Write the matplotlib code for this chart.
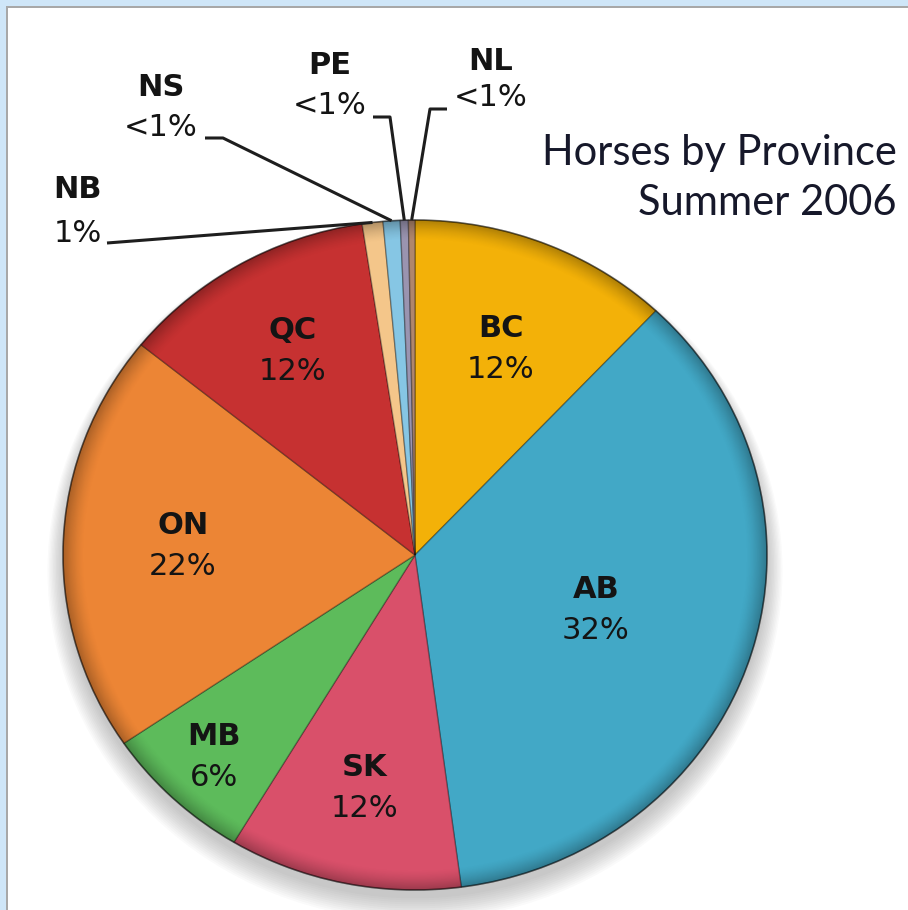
import matplotlib
matplotlib.use("Agg")
import matplotlib.pyplot as plt
import numpy as np
from matplotlib.patches import Rectangle, Ellipse

# slice data, clockwise from 12 o'clock
provinces = ["BC", "AB", "SK", "MB", "ON", "QC", "NB", "NS", "PE", "NL"]
shares = [12.0, 35.9, 10.7, 6.9, 20.3, 11.8, 0.95, 0.78, 0.37, 0.30]
pct_labels = ["12%", "32%", "12%", "6%", "22%", "12%", "1%", "<1%", "<1%", "<1%"]
title_lines = ["Horses by Province", "Summer 2006"]

colors = ["#F3B108", "#42A8C6", "#D9506A", "#5DBB5B", "#EC8535",
          "#C63131", "#F4C68A", "#86C6E4", "#9A94B0", "#B0866C"]

W, H = 908, 910
CX, CY = 415, 555          # pie centre in pixels (from top)
RX, RY = 352, 335          # pie radii in pixels


def px(x, y):
    """Pixel position (from top-left) to data coordinates."""
    return (x - CX) / RX, (CY - y) / RY


fig = plt.figure(figsize=(W / 100, H / 100), dpi=100)
ax = fig.add_axes([0, 0, 1, 1])

# soft shadow under the pie, mostly towards the bottom
for i in range(12):
    s = 1.0 + 0.004 * i
    ax.add_patch(Ellipse((0, -0.025 - 0.002 * i), 2 * s, 2 * s,
                         color="#606060", alpha=0.03, lw=0, zorder=0))

wedges, _ = ax.pie(shares, colors=colors, startangle=90, counterclock=False,
                   wedgeprops=dict(edgecolor="#00000050", linewidth=1.0))
ax.set_aspect("auto")
ax.set_xlim(-CX / RX, (W - CX) / RX)
ax.set_ylim(-(H - CY) / RY, CY / RY)
ax.axis("off")

# bevel: darker band along the rim, clipped to the pie
gx, gy = np.meshgrid(np.linspace(-1, 1, 600), np.linspace(-1, 1, 600))
rr = np.hypot(gx, gy)
shade = np.zeros((600, 600, 4))
shade[..., 3] = np.clip((rr - 0.94) / 0.06, 0, 1) ** 1.5 * 0.28
img = ax.imshow(shade, extent=(-1, 1, -1, 1), origin="lower", aspect="auto", zorder=2)
clip = Ellipse((0, 0), 2, 2, transform=ax.transData, fc="none", ec="none")
ax.add_patch(clip)
img.set_clip_path(clip)
ax.add_patch(Ellipse((0, 0), 2, 2, fill=False, ec="#00000070", lw=1.2, zorder=3))

name_font = dict(family="DejaVu Sans", fontsize=22, fontweight="bold", color="#141414")
pct_font = dict(family="DejaVu Sans", fontsize=22, color="#141414")

# labels inside the big slices
label_r = [0.66, 0.54, 0.71, 0.83, 0.66, 0.70]
for w, name, pct, r in zip(wedges[:6], provinces[:6], pct_labels[:6], label_r):
    mid = np.deg2rad((w.theta1 + w.theta2) / 2)
    x, y = r * np.cos(mid), r * np.sin(mid)
    ax.text(x, y + 0.062, name, ha="center", va="center", zorder=5, **name_font)
    ax.text(x, y - 0.060, pct, ha="center", va="center", zorder=5, **pct_font)

# outside labels with leader lines
out_text = [(78, 190, 233), (161, 87, 127), (330, 65, 105), (491, 61, 98)]
elbows = [[(107, 243)], [(205, 138), (223, 138)], [(373, 117), (390, 117)],
          [(447, 109), (430, 109)]]
for w, name, pct, (tx, ny, py), elb in zip(wedges[6:], provinces[6:], pct_labels[6:],
                                            out_text, elbows):
    ax.text(*px(tx, ny), name, ha="center", va="center", **name_font)
    ax.text(*px(tx, py), pct, ha="center", va="center", **pct_font)
    mid = np.deg2rad((w.theta1 + w.theta2) / 2)
    pts = [px(*p) for p in elb] + [(np.cos(mid), np.sin(mid))]
    xs, ys = zip(*pts)
    ax.plot(xs, ys, color="#1e1e1e", lw=2.2, solid_capstyle="butt", zorder=4)

# title
for line, ty in zip(title_lines, (153, 203)):
    ax.text(*px(897, ty), line, ha="right", va="center", family="Lato",
            fontsize=30, color="#16182a")

# window frame (top and left)
fig.add_artist(Rectangle((0, 1 - 6 / H), 1, 6 / H, transform=fig.transFigure,
                         color="#CFE6F8", lw=0))
fig.add_artist(Rectangle((0, 0), 6 / W, 1, transform=fig.transFigure,
                         color="#CFE6F8", lw=0))
fig.add_artist(Rectangle((6 / W, 1 - 7.5 / H), 1, 1.5 / H, transform=fig.transFigure,
                         color="#A8A8A8", lw=0))
fig.add_artist(Rectangle((6 / W, 0), 1.5 / W, 1 - 6 / H, transform=fig.transFigure,
                         color="#A8A8A8", lw=0))

fig.savefig("out.png", dpi=100)
